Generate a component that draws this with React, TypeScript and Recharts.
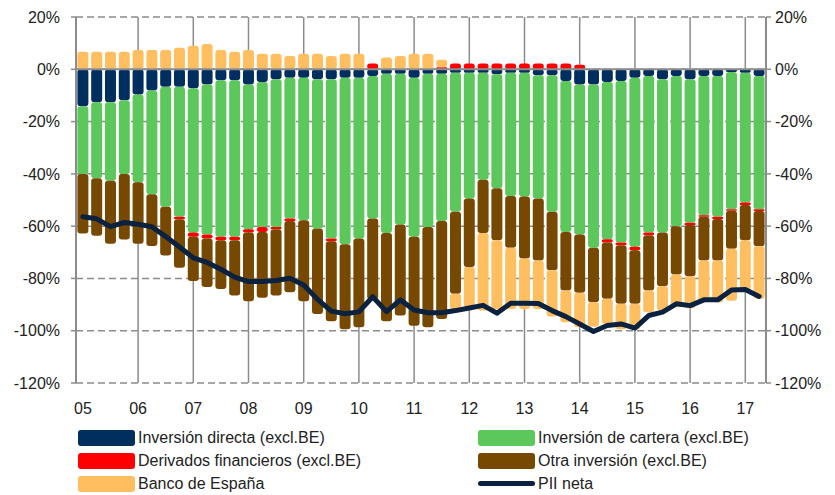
import React from "react";
import {
  ComposedChart,
  Bar,
  Line,
  XAxis,
  YAxis,
  CartesianGrid,
  ReferenceLine,
} from "recharts";

const YEARS = ["05", "06", "07", "08", "09", "10", "11", "12", "13", "14", "15", "16", "17"];
const QUARTERS = YEARS.flatMap((y) => ["1", "2", "3", "4"].map((n) => `${y}T${n}`)).slice(0, 50);
const Y_TICKS = [20, 0, -20, -40, -60, -80, -100, -120];

// % of GDP
const DIRECTA = [
  -14.1, -12.6, -12.6, -11.8, -9.6, -8.1, -6.7, -6.7, -7.3, -5.8,
  -4.2, -4.2, -5.8, -4.9, -3.8, -3.2, -3.2, -3.8, -3.8, -3.2,
  -3.2, -2.6, -1.7, -1.7, -3.2, -1.7, -1.7, -1.3, -1.3, -1.3,
  -1.9, -1.3, -1.3, -2.3, -2.3, -4.5, -5.8, -5.8, -4.9, -4.5,
  -3.2, -2.6, -3.8, -2.6, -3.8, -2.6, -2.6, -1.0, -1.3, -2.6,
];
const CARTERA = [
  -26.0, -29.1, -30.0, -28.3, -33.6, -39.7, -45.9, -49.7, -55.1, -57.4,
  -59.9, -59.9, -55.4, -55.4, -56.5, -53.9, -54.5, -57.1, -60.9, -63.7,
  -61.5, -54.5, -60.9, -57.7, -60.9, -58.6, -56.3, -53.2, -48.1, -41.0,
  -43.6, -47.2, -47.4, -47.1, -52.2, -57.7, -57.4, -62.5, -60.1, -61.8,
  -64.7, -59.8, -58.6, -57.4, -54.9, -53.2, -53.8, -52.5, -49.7, -50.9,
];
const DERIVADOS = [
  0, 0, 0, 0, 0, 0, 0, -1.0, -1.7, -1.5,
  -1.3, -1.3, -1.2, -1.9, -0.9, -0.9, 0, 0, -1.1, 0,
  0, 2.2, 0, 0, 0, 0, 0.8, 2.2, 2.2, 2.2,
  2.2, 2.2, 2.2, 2.2, 2.2, 2.2, 1.7, 0, -1.3, -1.0,
  -1.3, -1.1, 0, 0, -0.9, -0.6, -0.9, -0.6, -0.9, -0.7,
];
const OTRA = [
  -22.7, -22.0, -24.1, -25.0, -23.5, -19.8, -18.6, -18.5, -16.9, -18.6,
  -18.6, -21.1, -26.3, -25.2, -25.3, -27.3, -31.0, -32.7, -30.6, -32.5,
  -34.0, -30.9, -33.8, -34.8, -34.0, -38.4, -37.5, -31.4, -26.2, -20.3,
  -19.9, -19.8, -23.7, -23.7, -22.4, -22.4, -22.3, -20.8, -21.5, -22.4,
  -20.5, -21.1, -20.6, -18.5, -19.6, -16.7, -15.8, -14.5, -13.5, -13.5,
];
const BDE = [
  6.7, 6.7, 6.7, 6.7, 7.4, 7.4, 7.4, 8.2, 9.0, 9.7,
  7.4, 6.7, 7.4, 5.9, 5.9, 5.1, 5.9, 5.9, 5.1, 5.9,
  5.9, 0, 4.5, 5.1, 5.9, 5.9, 2.8, -5.8, -15.4, -29.7,
  -26.3, -23.4, -19.3, -18.6, -17.7, -12.2, -13.2, -9.4, -9.6, -9.7,
  -9.7, -8.3, -9.3, -12.5, -12.2, -16.0, -16.0, -19.9, -19.2, -20.1,
];
const PII = [
  -56.4, -57.2, -60.2, -58.6, -59.3, -60.2, -64.0, -68.0, -72.1, -73.9,
  -76.5, -79.5, -81.2, -81.2, -80.8, -79.9, -82.5, -88.0, -92.5, -93.5,
  -92.8, -87.0, -92.7, -88.2, -92.1, -93.1, -93.1, -92.3, -91.3, -90.3,
  -93.3, -89.5, -89.5, -89.6, -92.3, -94.6, -97.4, -100.3, -98.0, -97.4,
  -99.0, -94.2, -92.9, -89.7, -90.4, -88.2, -88.2, -84.4, -84.2, -86.9,
];

const SERIES = [
  { key: "directa", name: "Inversión directa (excl.BE)", color: "#002f5f" },
  { key: "cartera", name: "Inversión de cartera (excl.BE)", color: "#5cc85c" },
  { key: "derivados", name: "Derivados financieros (excl.BE)", color: "#ff0000" },
  { key: "otra", name: "Otra inversión (excl.BE)", color: "#774900" },
  { key: "bde", name: "Banco de España", color: "#ffbe5f" },
];
const LINE_COLOR = "#0a2240";

const data = QUARTERS.map((q, i) => ({
  q,
  directa: DIRECTA[i],
  cartera: CARTERA[i],
  derivados: DERIVADOS[i],
  otra: OTRA[i],
  bde: BDE[i],
  pii: PII[i],
}));

// first quarter of each year gets a vertical grid line
const YEAR_STARTS = QUARTERS.filter((q) => q.endsWith("T1"));

const FONT = '"Liberation Sans", Arial, sans-serif';
const GRID = "#8c8c8c";
const tickStyle = { fontSize: 16, fill: "#222", fontFamily: FONT };

function LegendItem({ name, color, line }: { name: string; color: string; line?: boolean }) {
  return (
    <div style={{ display: "flex", alignItems: "center", height: 23 }}>
      <div style={{ width: 57, height: 16, display: "flex", alignItems: "center" }}>
        <div style={{ width: "100%", height: line ? 5 : 16, borderRadius: 3, background: color }} />
      </div>
      <span style={{ marginLeft: 3, fontSize: 16, color: "#222", fontFamily: FONT }}>{name}</span>
    </div>
  );
}

export default function App() {
  const legendLeft = [SERIES[0], SERIES[2], SERIES[4]];
  const legendRight = [SERIES[1], SERIES[3]];
  return (
    <div style={{ position: "absolute", left: 0, top: 0, width: 835, height: 495, background: "#fff" }}>
      <ComposedChart
        width={835}
        height={420}
        data={data}
        stackOffset="sign"
        margin={{ top: 17, right: 0, bottom: 0, left: 0 }}
      >
        <CartesianGrid
          yAxisId="left"
          stroke={GRID}
          strokeWidth={1.5}
          strokeDasharray="7 4"
          vertical={false}
        />
        {YEAR_STARTS.slice(1).map((q) => (
          <ReferenceLine
            key={q}
            yAxisId="left"
            x={q}
            position="middle"
            stroke={GRID}
            strokeWidth={1.5}
            zIndex={-100}
          />
        ))}
        <XAxis
          dataKey="q"
          interval={3}
          tickFormatter={(v: string) => v.slice(0, 2)}
          axisLine={false}
          tickLine={false}
          tickSize={0}
          tickMargin={20}
          height={37}
          tick={tickStyle}
        />
        <YAxis
          yAxisId="left"
          domain={[-120, 20]}
          ticks={Y_TICKS}
          allowDataOverflow
          width={76}
          tickFormatter={(v: number) => `${v}%`}
          axisLine={{ stroke: GRID, strokeWidth: 2 }}
          tickLine={{ stroke: GRID, strokeWidth: 1.5 }}
          tickSize={5}
          tickMargin={11}
          tick={tickStyle}
        />
        <YAxis
          yAxisId="right"
          orientation="right"
          domain={[-120, 20]}
          ticks={Y_TICKS}
          allowDataOverflow
          width={69}
          tickFormatter={(v: number) => `${v}%`}
          axisLine={{ stroke: GRID, strokeWidth: 2 }}
          tickLine={{ stroke: GRID, strokeWidth: 1.5 }}
          tickSize={5}
          tickMargin={4}
          tick={{ ...tickStyle, textAnchor: "start" }}
        />
        {SERIES.map((s) => (
          <Bar
            key={s.key}
            yAxisId="left"
            dataKey={s.key}
            name={s.name}
            stackId="a"
            fill={s.color}
            radius={3}
            isAnimationActive={false}
          />
        ))}
        <ReferenceLine yAxisId="left" y={0} stroke={GRID} strokeWidth={2} />
        <Line
          yAxisId="left"
          dataKey="pii"
          name="PII neta"
          stroke={LINE_COLOR}
          strokeWidth={5}
          strokeLinejoin="round"
          strokeLinecap="round"
          dot={false}
          type="linear"
          isAnimationActive={false}
        />
      </ComposedChart>
      <div style={{ position: "absolute", left: 78, top: 426 }}>
        {legendLeft.map((s) => (
          <LegendItem key={s.key} name={s.name} color={s.color} />
        ))}
      </div>
      <div style={{ position: "absolute", left: 478, top: 426 }}>
        {legendRight.map((s) => (
          <LegendItem key={s.key} name={s.name} color={s.color} />
        ))}
        <LegendItem name="PII neta" color={LINE_COLOR} line />
      </div>
    </div>
  );
}
